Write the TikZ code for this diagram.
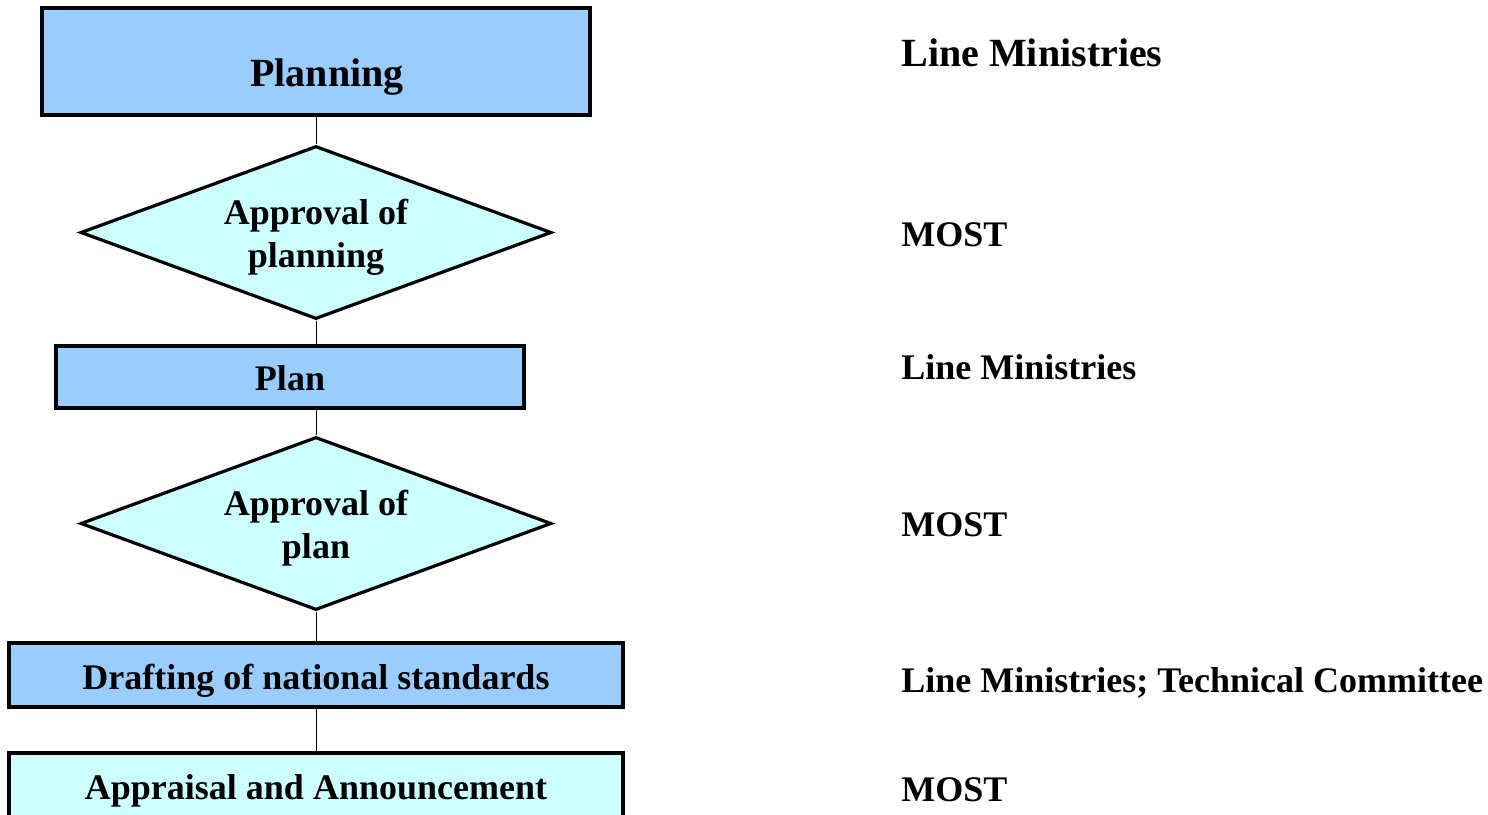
\documentclass[tikz,border=0pt]{standalone}
\usepackage{fontspec}
\setmainfont{Liberation Serif}
\usetikzlibrary{shapes.geometric}
\definecolor{boxblue}{HTML}{99CCFF}
\definecolor{boxcyan}{HTML}{CCFFFF}
\begin{document}
\begin{tikzpicture}[x=0.5pt,y=-0.5pt,
  bluebox/.style={draw=black,line width=1.6pt,fill=boxblue,inner sep=0pt,rectangle},
  cyanbox/.style={draw=black,line width=1.6pt,fill=boxcyan,inner sep=0pt,rectangle},
  decision/.style={draw=black,line width=1.6pt,fill=boxcyan,inner sep=0pt,diamond,minimum width=235.5pt,minimum height=86.5pt},
  lbl/.style={font=\bfseries\fontsize{18pt}{21.5pt}\selectfont,inner sep=0pt,align=center},
  biglbl/.style={font=\bfseries\fontsize{20pt}{24pt}\selectfont,inner sep=0pt},
  side/.style={font=\bfseries\fontsize{18pt}{21.5pt}\selectfont,inner sep=0pt,anchor=base west},
  conn/.style={draw=black,line width=0.5pt}]
\useasboundingbox (0,0) rectangle (1488,814);
\clip (0,0) rectangle (1488,814);
% shapes
\node[bluebox,minimum width=274pt,minimum height=53.5pt] (planning) at (316,61.5) {};
\node[biglbl,anchor=base] (planningT) at (327,86) {Planning};
\node[decision] (appr1) at (316,232.5) {};
\node[lbl] (appr1T) at (316,237) {Approval of\\planning};
\node[bluebox,minimum width=234pt,minimum height=31pt] (plan) at (290,377) {};
\node[lbl,anchor=base] (planT) at (290,390) {Plan};
\node[decision] (appr2) at (316,523.5) {};
\node[lbl] (appr2T) at (316,528) {Approval of\\plan};
\node[bluebox,minimum width=307pt,minimum height=32pt] (draft) at (316,675) {};
\node[lbl,anchor=base] (draftT) at (316,689) {Drafting of national standards};
\node[cyanbox,minimum width=307pt,minimum height=45pt] (apprs) at (316,798) {};
\node[lbl,anchor=base] (apprsT) at (316,799) {Appraisal and Announcement};
% connectors
\draw[conn] (planning.south) -- (appr1.north);
\draw[conn] (appr1.south) -- (appr1.south |- plan.north);
\draw[conn] (appr2.north |- plan.south) -- (appr2.north);
\draw[conn] (appr2.south) -- (draft.north);
\draw[conn] (draft.south) -- (apprs.north);
% responsible bodies
\node[biglbl,anchor=base west] (r1) at (901,66) {Line Ministries};
\node[side] (r2) at (901,246) {MOST};
\node[side] (r3) at (901,379) {Line Ministries};
\node[side] (r4) at (901,536) {MOST};
\node[side] (r5) at (901,692) {Line Ministries; Technical Committee};
\node[side] (r6) at (901,801) {MOST};
\end{tikzpicture}
\end{document}
